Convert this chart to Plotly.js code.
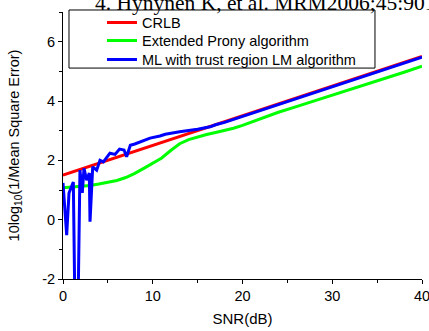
<!DOCTYPE html>
<html>
<head>
<meta charset="utf-8">
<script src="https://cdn.plot.ly/plotly-3.0.1.min.js"></script>
<style>html,body{margin:0;padding:0;background:#fff;}#chart{width:429px;height:331px;}</style>
</head>
<body>
<div id="chart"></div>
<script>
// CRLB (red)
const crlbX = [0, 5, 10, 15, 20, 25, 30, 35, 40];
const crlbY = [1.5, 2.0, 2.5, 3.0, 3.5, 4.0, 4.5, 5.0, 5.5];

// Extended Prony algorithm (green)
const pronyX = [0, 1, 2, 3, 4, 5, 6, 7, 8, 9, 10, 11, 12, 13, 14, 15, 16, 17, 18, 19, 20, 22, 24, 26, 28, 30, 32, 34, 36, 38, 40];
const pronyY = [1.08, 1.1, 1.12, 1.15, 1.2, 1.25, 1.32, 1.42, 1.56, 1.73, 1.9, 2.08, 2.33, 2.56, 2.7, 2.79, 2.87, 2.94, 3.0, 3.08, 3.18, 3.4, 3.62, 3.81, 4.0, 4.2, 4.39, 4.58, 4.78, 4.97, 5.17];

// ML with trust region LM algorithm (blue)
const mlX = [0, 0.41, 0.67, 1.15, 1.35, 1.65, 1.89, 2.15, 2.34, 2.64, 2.93, 3.01, 3.31, 3.5, 3.75, 4.12, 4.5, 5.23, 5.8, 6.3, 6.8, 7.09, 7.5, 8, 8.9, 9.7, 10.8, 11.4, 13, 14, 15, 16.4, 17, 18, 19, 20, 22, 24, 26, 28, 30, 32, 34, 36, 38, 40];
const mlY = [1.24, -0.52, 0.9, 1.27, -3.5, -3.5, 1.67, 0.9, 1.73, 1.33, 1.57, -0.07, 1.78, 1.72, 1.67, 2.0, 1.95, 2.24, 2.2, 2.38, 2.35, 2.12, 2.51, 2.55, 2.66, 2.75, 2.82, 2.88, 2.96, 3.0, 3.05, 3.13, 3.2, 3.28, 3.38, 3.48, 3.68, 3.88, 4.08, 4.28, 4.48, 4.68, 4.88, 5.08, 5.28, 5.48];

const seriesNames = ["CRLB", "Extended Prony algorithm", "ML with trust region LM algorithm"];
const xTickVals = [0, 10, 20, 30, 40];
const xTickText = ["0", "10", "20", "30", "40"];
const yTickVals = [-2, 0, 2, 4, 6];
const yTickText = ["-2", "0", "2", "4", "6"];
const titleText = "4. Hynynen K, et al. MRM2006;45:901";

const sans = "Liberation Sans, Arial, sans-serif";

const traces = [
  {x: crlbX, y: crlbY, name: seriesNames[0], legend: "legend", mode: "lines", line: {color: "#ff0000", width: 3}},
  {x: pronyX, y: pronyY, name: seriesNames[1], legend: "legend2", mode: "lines", line: {color: "#00ff00", width: 3}},
  {x: mlX, y: mlY, name: seriesNames[2], legend: "legend3", mode: "lines", line: {color: "#0000ff", width: 3}}
];

const axisCommon = {
  showgrid: false, zeroline: false, showline: true, linecolor: "#000", linewidth: 1,
  ticks: "outside", ticklen: 4, tickcolor: "#000", tickwidth: 1,
  tickfont: {family: sans, size: 14.5, color: "#000"}, mirror: false,
  ticklabeloverflow: "allow"
};

function legendAt(yTop) {
  return {
    x: 0.1086, xanchor: "left", y: yTop, yanchor: "top",
    bgcolor: "rgba(0,0,0,0)", borderwidth: 0,
    font: {family: sans, size: 14.5, color: "#000"}
  };
}

const layout = {
  width: 429, height: 331,
  margin: {l: 63, r: 7, t: 12, b: 52},
  paper_bgcolor: "#fff", plot_bgcolor: "#fff",
  showlegend: true,
  xaxis: Object.assign({}, axisCommon, {
    range: [0, 40.0001], tickmode: "array", tickvals: xTickVals, ticktext: xTickText,
    minor: {dtick: 5, tick0: 0, ticks: "outside", ticklen: 3, tickcolor: "#000"},
    title: {text: "SNR(dB)", font: {family: sans, size: 15, color: "#000"}, standoff: 10}
  }),
  yaxis: Object.assign({}, axisCommon, {
    range: [-2, 7], tickmode: "array", tickvals: yTickVals, ticktext: yTickText,
    minor: {dtick: 1, tick0: 0, ticks: "outside", ticklen: 3, tickcolor: "#000"},
    title: {text: "10log<sub>10</sub>(1/Mean Square Error)", font: {family: sans, size: 14.5, color: "#000"}, standoff: 19}
  }),
  legend: legendAt(1.02),
  legend2: legendAt(0.9526),
  legend3: legendAt(0.8814),
  shapes: [
    {type: "rect", xref: "paper", yref: "paper", x0: 0.0167, x1: 0.869, y0: 0.79, y1: 1.0075,
     line: {color: "#000", width: 1}, fillcolor: "rgba(0,0,0,0)", layer: "above"}
  ],
  annotations: [
    {text: titleText, xref: "paper", yref: "paper", x: 0.0836, xanchor: "left", y: 0.981, yanchor: "bottom",
     showarrow: false, font: {family: "Liberation Serif, Times New Roman, serif", size: 21.5, color: "#000"}}
  ]
};

Plotly.newPlot("chart", traces, layout, {displayModeBar: false, staticPlot: true});
</script>
</body>
</html>
